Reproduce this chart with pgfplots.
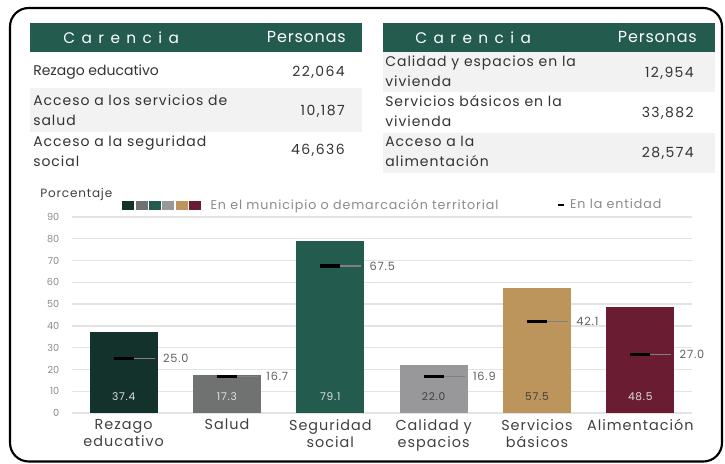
\documentclass[border=0pt]{standalone}
\usepackage{pgfplots}
\pgfplotsset{compat=1.18}
\usepackage{fontspec}
\setmainfont{Poppins}
\newfontfamily\spaced[LetterSpace=42]{Poppins}
\newfontfamily\hwide[LetterSpace=5]{Poppins}
\newfontfamily\wide[LetterSpace=10]{Poppins}
\newfontfamily\lwide[LetterSpace=7]{Poppins}
\definecolor{cA}{HTML}{13322B}
\definecolor{cB}{HTML}{6F7271}
\definecolor{cC}{HTML}{235B4E}
\definecolor{cD}{HTML}{98989A}
\definecolor{cE}{HTML}{BC955C}
\definecolor{cF}{HTML}{691C32}
\definecolor{hdr}{HTML}{235B4E}
\definecolor{rowgray}{HTML}{F2F2F2}
\definecolor{txt}{HTML}{333333}
\definecolor{gridc}{HTML}{E3E3E3}
\definecolor{tickc}{HTML}{8A8A8A}
\definecolor{labgray}{HTML}{606060}
\definecolor{catc}{HTML}{404040}
\begin{document}
\begin{tikzpicture}[x=0.75pt,y=0.75pt]
\useasboundingbox (0,0) rectangle (725,464);
\draw[line width=1.6pt, rounded corners=14pt] (10,2.5) rectangle (722,456);
% ---------- left table
\fill[hdr] (30,412) rectangle (362,441);
\node[anchor=west, text=white, font=\fontsize{11.5}{13}\spaced, inner sep=0pt] at (63,426.5) {Carencia};
\node[anchor=east, text=white, font=\fontsize{12}{13}\hwide, inner sep=0pt] at (346,426.5) {Personas};
\fill[rowgray] (30,332) rectangle (362,376);
\node[anchor=west, text=txt, font=\fontsize{10.5}{15}\selectfont, align=left, inner sep=0pt] at (33,392) {Rezago educativo};
\node[anchor=east, text=txt, font=\fontsize{10.5}{15}\wide, inner sep=0pt] at (345,392) {22,064};
\node[anchor=west, text=txt, font=\fontsize{10.5}{15}\lwide, align=left, inner sep=0pt] at (33,354) {Acceso a los servicios de\\salud};
\node[anchor=east, text=txt, font=\fontsize{10.5}{15}\wide, inner sep=0pt] at (345,353) {10,187};
\node[anchor=west, text=txt, font=\fontsize{10.5}{15}\lwide, align=left, inner sep=0pt] at (33,313) {Acceso a la seguridad\\social};
\node[anchor=east, text=txt, font=\fontsize{10.5}{15}\wide, inner sep=0pt] at (345,314) {46,636};
% ---------- right table
\fill[hdr] (383,412) rectangle (715,441);
\node[anchor=west, text=white, font=\fontsize{11.5}{13}\spaced, inner sep=0pt] at (415,426.5) {Carencia};
\node[anchor=east, text=white, font=\fontsize{12}{13}\hwide, inner sep=0pt] at (697,426.5) {Personas};
\fill[rowgray] (383,372) rectangle (715,412);
\fill[rowgray] (383,291) rectangle (715,331);
\node[anchor=west, text=txt, font=\fontsize{10.5}{15}\lwide, align=left, inner sep=0pt] at (385,393) {Calidad y espacios en la\\vivienda};
\node[anchor=east, text=txt, font=\fontsize{10.5}{15}\wide, inner sep=0pt] at (694,391) {12,954};
\node[anchor=west, text=txt, font=\fontsize{10.5}{15}\lwide, align=left, inner sep=0pt] at (385,353) {Servicios básicos en la\\vivienda};
\node[anchor=east, text=txt, font=\fontsize{10.5}{15}\wide, inner sep=0pt] at (694,351) {33,882};
\node[anchor=west, text=txt, font=\fontsize{10.5}{15}\lwide, align=left, inner sep=0pt] at (385,313) {Acceso a la\\alimentación};
\node[anchor=east, text=txt, font=\fontsize{10.5}{15}\wide, inner sep=0pt] at (694,311) {28,574};
% ---------- chart
\node[anchor=west, text=catc, font=\fontsize{9}{10}\lwide, inner sep=0pt] at (40,270) {Porcentaje};
\begin{axis}[
  at={(54pt,38.25pt)}, anchor=south west, scale only axis,
  width=465pt, height=147pt,
  xmin=-0.5, xmax=5.5, ymin=0, ymax=90,
  ytick={0,10,...,90}, xtick={0,...,5},
  xticklabels={{Rezago\\educativo},{Salud},{Seguridad\\social},{Calidad y\\espacios},{Servicios\\básicos},{Alimentación}},
  xticklabel style={align=center, text=catc, font=\fontsize{10.8}{12.75}\lwide, anchor=north, yshift=-1pt},
  yticklabel style={text=tickc, font=\fontsize{7.3}{8}\selectfont, xshift=-6pt},
  /pgf/number format/assume math mode=true,
  axis line style={draw=none}, major tick length=0pt,
  ymajorgrids, grid style={gridc, line width=1pt},
  clip=false,
  legend style={at={(0.0806,1.061)}, anchor=west, draw=none, fill=none, legend columns=2,
    font=\fontsize{9.5}{10}\lwide, text=tickc, inner sep=0pt,
    /tikz/every even column/.append style={column sep=42pt}},
  legend cell align=left,
]
\addlegendimage{legend image code/.code={
  \fill[cA] (0pt,-3pt) rectangle (8.25pt,3pt);
  \fill[cB] (10pt,-3pt) rectangle (18.25pt,3pt);
  \fill[cC] (20pt,-3pt) rectangle (28.25pt,3pt);
  \fill[cD] (30pt,-3pt) rectangle (38.25pt,3pt);
  \fill[cE] (40pt,-3pt) rectangle (48.25pt,3pt);
  \fill[cF] (50pt,-3pt) rectangle (58.25pt,3pt);
  \path[draw=none, fill=none] (64pt,0pt);}}
\addlegendentry{En el municipio o demarcación territorial}
\addlegendimage{legend image code/.code={\path[draw=none, fill=none] (0pt,-3pt) rectangle (7pt,3pt); \draw[black, line width=1.6pt] (0pt,0pt) -- (4.5pt,0pt);}}
\addlegendentry{En la entidad}
% bars (municipio)
\addplot[forget plot, ybar, bar width=51pt, bar shift=0pt, fill=cA, draw=none] coordinates {(0,37.4)};
\addplot[forget plot, ybar, bar width=51pt, bar shift=0pt, fill=cB, draw=none] coordinates {(1,17.3)};
\addplot[forget plot, ybar, bar width=51pt, bar shift=0pt, fill=cC, draw=none] coordinates {(2,79.1)};
\addplot[forget plot, ybar, bar width=51pt, bar shift=0pt, fill=cD, draw=none] coordinates {(3,22.0)};
\addplot[forget plot, ybar, bar width=51pt, bar shift=0pt, fill=cE, draw=none] coordinates {(4,57.5)};
\addplot[forget plot, ybar, bar width=51pt, bar shift=0pt, fill=cF, draw=none] coordinates {(5,48.5)};
% value labels inside bars
\addplot[forget plot, only marks, mark=none, nodes near coords, point meta=explicit symbolic,
  nodes near coords style={anchor=center, text=white!88!black, font=\fontsize{8}{9}\lwide}]
  coordinates {(0,7.3)[37.4] (1,7.3)[17.3] (2,7.3)[79.1] (5,7.3)[48.5]};
\addplot[forget plot, only marks, mark=none, nodes near coords, point meta=explicit symbolic,
  nodes near coords style={anchor=center, text=catc, font=\fontsize{8}{9}\lwide}]
  coordinates {(3,7.3)[22.0] (4,7.3)[57.5]};
% entidad
\addplot[forget plot, only marks, mark=-, mark size=7.5pt,
  mark options={black, line width=2.4pt, solid},
  error bars/.cd, x dir=plus, x fixed=0.3, error mark=none,
  error bar style={color=gray, line width=0.9pt}]
  table {
x y
0 25.0
1 16.7
2 67.5
3 16.9
4 42.1
5 27.0
};
\addplot[forget plot, only marks, mark=none, nodes near coords,
  nodes near coords style={anchor=west, xshift=26pt, text=labgray, font=\fontsize{8.5}{9}\lwide,
    /pgf/number format/fixed, /pgf/number format/fixed zerofill, /pgf/number format/precision=1}]
  table {
x y
0 25.0
1 16.7
2 67.5
3 16.9
4 42.1
5 27.0
};
\end{axis}
\end{tikzpicture}
\end{document}
